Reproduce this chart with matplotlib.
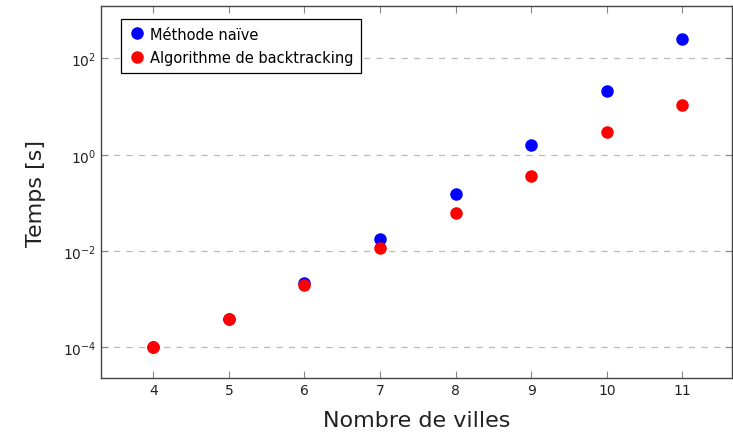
import numpy as np
import matplotlib
matplotlib.use('Agg')
import matplotlib.pyplot as plt
from matplotlib.ticker import LogLocator, LogFormatterMathtext, NullLocator

# number of cities
villes = [4, 5, 6, 7, 8, 9, 10, 11]
# computation time in seconds
naive = [1.0e-4, 3.9e-4, 2.2e-3, 1.82e-2, 0.155, 1.63, 21.5, 257]
backtracking = [1.0e-4, 3.9e-4, 1.95e-3, 1.14e-2, 0.0617, 0.36, 2.94, 10.9]

plt.rcParams['font.family'] = ['DejaVu Sans']
plt.rcParams['mathtext.fontset'] = 'dejavusans'

fig = plt.figure(figsize=(7.33, 4.35), dpi=100)
ax = fig.add_axes([0.138, 0.128, 0.860, 0.855])

ax.set_yscale('log')
ax.plot(villes, naive, 'o', color='blue', ms=8, label='Méthode naïve', zorder=3)
ax.plot(villes, backtracking, 'o', color='red', ms=8, label='Algorithme de backtracking', zorder=3)

ax.set_xlim(3.31, 11.65)
ax.set_ylim(10**-4.64, 10**3.08)
ax.set_xticks(villes)
ax.yaxis.set_major_locator(LogLocator(base=100.0))
ax.yaxis.set_major_formatter(LogFormatterMathtext(base=10))
ax.yaxis.set_minor_locator(NullLocator())

ax.grid(axis='y', color='#bbbbbb', linestyle=(0, (5, 5)), linewidth=0.9)
ax.set_axisbelow(True)

ax.tick_params(direction='in', length=5, color='#888888', labelsize=10,
               top=True, right=True, labelcolor='#222222')
for s in ax.spines.values():
    s.set_color('#444444')
    s.set_linewidth(1.0)

ax.set_xlabel('Nombre de villes', fontsize=16, color='#222222', labelpad=9)
ax.set_ylabel('Temps [s]', fontsize=16, color='#222222', labelpad=12)

leg = ax.legend(loc='upper left', bbox_to_anchor=(0.02, 0.985), fontsize=10.5,
                frameon=True, fancybox=False, edgecolor='black', framealpha=1,
                handletextpad=0.3, borderpad=0.5, handlelength=1.2, labelspacing=0.6)
leg.get_frame().set_linewidth(0.9)

fig.savefig('out.png', dpi=100)
